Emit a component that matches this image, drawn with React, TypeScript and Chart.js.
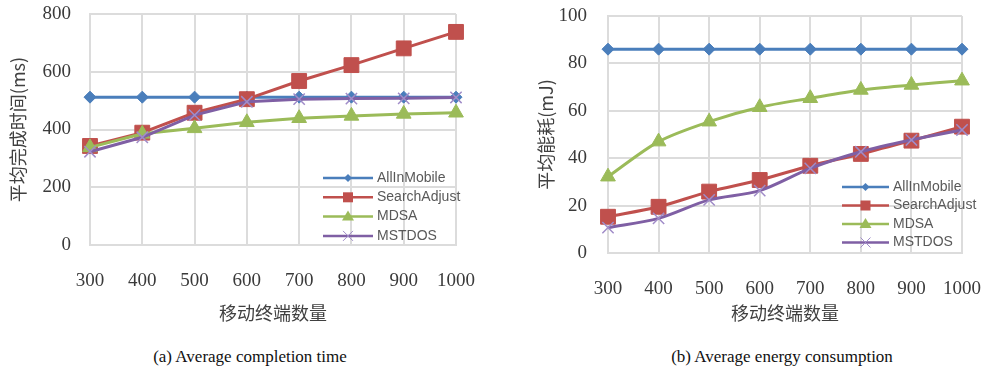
import React, { useEffect, useRef } from 'react';
import { Chart, registerables } from 'chart.js';

Chart.register(...registerables);

const xLabels = ['300', '400', '500', '600', '700', '800', '900', '1000'];
const seriesNames = ['AllInMobile', 'SearchAdjust', 'MDSA', 'MSTDOS'];

const timeAllInMobile = [512, 512, 512, 512, 512, 512, 512, 512];
const timeSearchAdjust = [343, 389, 458, 505, 568, 623, 681, 738];
const timeMDSA = [338, 385, 404, 425, 439, 447, 454, 458];
const timeMSTDOS = [323, 373, 450, 496, 505, 507, 508, 511];

const energyAllInMobile = [86, 86, 86, 86, 86, 86, 86, 86];
const energySearchAdjust = [15.3, 19.5, 25.9, 30.8, 36.8, 41.8, 47.4, 53.3];
const energyMDSA = [32.2, 47, 55.4, 61.5, 65.3, 68.8, 70.9, 72.7];
const energyMSTDOS = [10.7, 14.6, 22.4, 26.3, 35.7, 42.7, 47.7, 51.9];

const timeAxisMax = 800;
const timeAxisStep = 200;
const energyAxisMax = 100;
const energyAxisStep = 20;

const timeYTitle = '平均完成时间(ms)';
const energyYTitle = '平均能耗(mJ)';
const xTitle = '移动终端数量';
const captionA = '(a) Average completion time';
const captionB = '(b) Average energy consumption';

const lineColors = ['#4a7ebb', '#c0504d', '#9bbb59', '#7f5fa4'];
const pointColors = ['#4a7ebb', '#c0504d', '#9bbb59', '#a08cc8'];
const pointStyles = ['rectRot', 'rect', 'triangle', 'crossRot'];
const pointRadii = [6, 10.5, 8.5, 8];

const GRID = '#dcdcdc';
const TICK_COLOR = '#3a3a3a';

function drawMarker(ctx: CanvasRenderingContext2D, kind: number, x: number, y: number, color: string) {
  ctx.save();
  ctx.fillStyle = color;
  ctx.strokeStyle = color;
  ctx.beginPath();
  if (kind === 0) {
    const r = 4;
    ctx.moveTo(x, y - r);
    ctx.lineTo(x + r, y);
    ctx.lineTo(x, y + r);
    ctx.lineTo(x - r, y);
    ctx.closePath();
    ctx.fill();
  } else if (kind === 1) {
    ctx.fillRect(x - 5, y - 5, 10, 10);
  } else if (kind === 2) {
    ctx.moveTo(x, y - 6);
    ctx.lineTo(x + 6, y + 4);
    ctx.lineTo(x - 6, y + 4);
    ctx.closePath();
    ctx.fill();
  } else {
    const r = 5;
    ctx.lineWidth = 1;
    ctx.moveTo(x - r, y - r);
    ctx.lineTo(x + r, y + r);
    ctx.moveTo(x + r, y - r);
    ctx.lineTo(x - r, y + r);
    ctx.stroke();
  }
  ctx.restore();
}

function makeLegendPlugin(cfg: { x0: number; len: number; y0: number; dy: number }) {
  return {
    id: 'insideLegend',
    afterDatasetsDraw(chart: any) {
      const ctx: CanvasRenderingContext2D = chart.ctx;
      const area = chart.chartArea;
      const lx = area.left + cfg.x0;
      for (let i = 0; i < seriesNames.length; i++) {
        const y = area.top + cfg.y0 + i * cfg.dy;
        ctx.save();
        ctx.strokeStyle = lineColors[i];
        ctx.lineWidth = 2.5;
        ctx.beginPath();
        ctx.moveTo(lx, y);
        ctx.lineTo(lx + cfg.len, y);
        ctx.stroke();
        ctx.restore();
        drawMarker(ctx, i, lx + cfg.len / 2, y, pointColors[i]);
        ctx.save();
        ctx.fillStyle = '#595959';
        ctx.font = '14px "Liberation Sans", Arial, sans-serif';
        ctx.textBaseline = 'middle';
        ctx.textAlign = 'left';
        ctx.fillText(seriesNames[i], lx + cfg.len + 4, y);
        ctx.restore();
      }
    },
  };
}

function buildConfig(
  series: number[][],
  yMax: number,
  yStep: number,
  yTitle: string,
  o: {
    padTop: number;
    padRight: number;
    yWidth: number;
    xHeight: number;
    tickPadX: number;
    tickPadY: number;
    yTitlePad: number;
    xTitlePad: number;
    tension: number;
    legend: { x0: number; len: number; y0: number; dy: number };
  }
): any {
  return {
    type: 'line',
    data: {
      labels: xLabels,
      datasets: series.map((d, i) => ({
        label: seriesNames[i],
        data: d,
        borderColor: lineColors[i],
        backgroundColor: pointColors[i],
        borderWidth: 3,
        tension: o.tension,
        pointStyle: pointStyles[i],
        pointRadius: pointRadii[i],
        pointBackgroundColor: pointColors[i],
        pointBorderColor: pointColors[i],
        pointBorderWidth: i === 3 ? 1.5 : 1,
        order: 4 - i,
      })),
    },
    options: {
      responsive: false,
      animation: false,
      layout: { padding: { top: o.padTop, right: o.padRight, left: 0, bottom: 0 } },
      plugins: { legend: { display: false }, tooltip: { enabled: false } },
      scales: {
        x: {
          type: 'category',
          offset: false,
          grid: { color: GRID, lineWidth: 2, drawTicks: false, offset: false },
          border: { display: true, color: GRID, width: 2 },
          ticks: {
            color: TICK_COLOR,
            padding: o.tickPadX,
            maxRotation: 0,
            autoSkip: false,
            font: { family: '"Liberation Serif", "Times New Roman", serif', size: 19 },
          },
          title: {
            display: true,
            text: xTitle,
            color: '#404040',
            padding: { top: 0, bottom: o.xTitlePad },
            font: { family: '"Noto Sans CJK SC", sans-serif', size: 18 },
          },
          afterFit: (s: any) => {
            s.height = o.xHeight;
          },
        },
        y: {
          min: 0,
          max: yMax,
          grid: { color: GRID, lineWidth: 2, drawTicks: false },
          border: { display: true, color: GRID, width: 2 },
          ticks: {
            stepSize: yStep,
            color: TICK_COLOR,
            padding: o.tickPadY,
            font: { family: '"Liberation Serif", "Times New Roman", serif', size: 19 },
          },
          title: {
            display: true,
            text: yTitle,
            color: '#404040',
            padding: { top: o.yTitlePad, bottom: 0 },
            font: { family: '"Noto Sans CJK SC", sans-serif', size: 18 },
          },
          afterFit: (s: any) => {
            s.width = o.yWidth;
            s.paddingTop = 0;
            s.paddingBottom = 0;
          },
        },
      },
    },
    plugins: [makeLegendPlugin(o.legend)],
  };
}

function ChartCanvas(props: { config: any; left: number; width: number; height: number }) {
  const ref = useRef<HTMLCanvasElement | null>(null);
  useEffect(() => {
    if (!ref.current) return;
    const chart = new Chart(ref.current, props.config);
    return () => chart.destroy();
  }, []);
  return (
    <canvas
      ref={ref}
      width={props.width}
      height={props.height}
      style={{ position: 'absolute', left: props.left, top: 0, width: props.width, height: props.height }}
    />
  );
}

export default function App() {
  const cfgA = buildConfig(
    [timeAllInMobile, timeSearchAdjust, timeMDSA, timeMSTDOS],
    timeAxisMax,
    timeAxisStep,
    timeYTitle,
    {
      padTop: 14,
      padRight: 41,
      yWidth: 90,
      xHeight: 85,
      tickPadX: 25,
      tickPadY: 19,
      yTitlePad: 7,
      xTitlePad: 6,
      tension: 0,
      legend: { x0: 233, len: 50, y0: 164, dy: 19.3 },
    }
  );
  const cfgB = buildConfig(
    [energyAllInMobile, energySearchAdjust, energyMDSA, energyMSTDOS],
    energyAxisMax,
    energyAxisStep,
    energyYTitle,
    {
      padTop: 16,
      padRight: 25,
      yWidth: 108,
      xHeight: 77,
      tickPadX: 25,
      tickPadY: 21,
      yTitlePad: 35,
      xTitlePad: 6,
      tension: 0.3,
      legend: { x0: 234, len: 47, y0: 171, dy: 18.5 },
    }
  );
  const capStyle: React.CSSProperties = {
    position: 'absolute',
    top: 345,
    fontFamily: '"Liberation Serif", "Times New Roman", serif',
    fontSize: 17,
    color: '#111',
    whiteSpace: 'nowrap',
    transform: 'translateX(-50%)',
    lineHeight: '24px',
  };
  return (
    <div style={{ position: 'absolute', left: 0, top: 0, width: 1006, height: 372, background: '#fff', overflow: 'hidden' }}>
      <ChartCanvas config={cfgA} left={0} width={500} height={330} />
      <ChartCanvas config={cfgB} left={500} width={506} height={330} />
      <div style={{ ...capStyle, left: 250 }}>{captionA}</div>
      <div style={{ ...capStyle, left: 782 }}>{captionB}</div>
    </div>
  );
}
